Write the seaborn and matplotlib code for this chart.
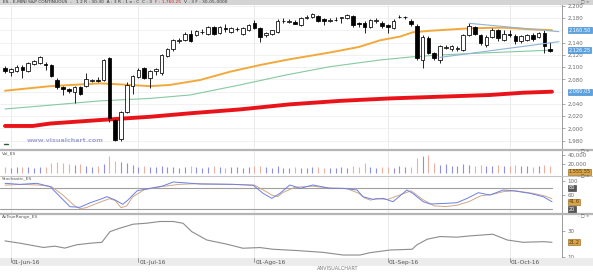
import numpy as np
import pandas as pd
import matplotlib
matplotlib.use("Agg")
import matplotlib.pyplot as plt
import matplotlib.transforms as mtransforms
from matplotlib.lines import Line2D
from matplotlib.patches import Rectangle
import seaborn as sns

sns.set_theme(style="white")
plt.rcParams['font.family'] = ['DejaVu Sans']

# ---------------- data ----------------
opens = [2099, 2092, 2094, 2101, 2094, 2105, 2107, 2106, 2103, 2079, 2067, 2064, 2060, 2067, 2069, 2077.5,
         2078.5, 2079, 2115, 2014, 1982, 2027, 2069, 2084, 2098, 2082, 2093, 2090, 2118, 2129, 2143, 2144,
         2155, 2153, 2157, 2155, 2166, 2156, 2164, 2158, 2162, 2155, 2161, 2172, 2164, 2153, 2155, 2158,
         2175, 2174, 2174, 2169, 2181, 2182, 2184, 2179, 2176, 2177, 2181, 2180, 2184, 2173, 2173, 2166,
         2176, 2173, 2169, 2164, 2182, 2182, 2176, 2167, 2112, 2147, 2123, 2112, 2132, 2129, 2130, 2128,
         2153, 2165, 2153, 2136, 2150, 2160, 2144, 2155, 2151, 2142, 2144, 2153, 2149, 2156, 2129]
highs = [2102, 2099, 2103, 2103, 2109, 2112, 2118, 2108, 2105, 2082, 2069, 2066, 2070, 2069, 2090, 2080,
         2084, 2114, 2117, 2016, 2029, 2076, 2088, 2098, 2100, 2095, 2099, 2122, 2131, 2146, 2147, 2157,
         2160, 2161, 2162, 2168, 2168, 2168, 2171, 2166, 2166, 2166, 2171, 2177, 2166, 2158, 2161, 2178,
         2180, 2179, 2177, 2182, 2186, 2189, 2186, 2181, 2181, 2182, 2182, 2187, 2186, 2174, 2175, 2179,
         2180, 2175, 2171, 2178, 2186, 2184, 2179, 2170, 2152, 2151, 2125, 2136, 2137, 2136, 2134, 2155,
         2172, 2167, 2155, 2152, 2164, 2162, 2161, 2160, 2154, 2153, 2155, 2156, 2158, 2160, 2141]
lows = [2090, 2086, 2092, 2082, 2092, 2103, 2105, 2095, 2084, 2064, 2055, 2058, 2041, 2055, 2067, 2075,
        2076, 2077, 2010, 1979, 1980, 2025, 2056, 2082, 2080, 2066, 2088, 2088, 2116, 2127, 2139, 2142,
        2141, 2151, 2154, 2153, 2153, 2154, 2158, 2156, 2159, 2153, 2159, 2162, 2141, 2149, 2153, 2156,
        2173, 2172, 2170, 2167, 2179, 2180, 2174, 2169, 2174, 2175, 2173, 2178, 2166, 2166, 2156, 2164,
        2172, 2164, 2156, 2162, 2180, 2178, 2168, 2112, 2099, 2122, 2112, 2107, 2129, 2127, 2127, 2126,
        2151, 2153, 2137, 2133, 2148, 2142, 2142, 2150, 2138, 2140, 2142, 2143, 2147, 2123, 2125]
closes = [2094, 2097, 2101, 2096, 2107, 2110, 2116, 2103, 2086, 2067, 2064, 2061, 2068, 2057, 2080, 2078.5,
          2077.5, 2112, 2017, 1981, 2027, 2071, 2086, 2095, 2082, 2093, 2097, 2120, 2129, 2144, 2144, 2155,
          2143, 2159, 2158, 2166, 2155, 2165, 2162, 2164, 2163, 2164, 2169, 2164, 2150, 2156, 2160, 2176,
          2176, 2174.5, 2171, 2180, 2182, 2187, 2176, 2175, 2177, 2177.5, 2181.5, 2185, 2169, 2171, 2166, 2177,
          2176.5, 2167, 2166, 2176, 2182.5, 2182.5, 2171, 2115, 2150, 2124, 2115, 2134, 2133, 2134, 2130.5, 2153,
          2167, 2155, 2139, 2150, 2160, 2147, 2155, 2153, 2142, 2151, 2153, 2146, 2156, 2134, 2126.25]
volume = [13, 11, 13, 13, 13, 11, 13, 13, 22, 24, 22, 20, 18, 20, 15, 13, 15, 20, 38, 27, 24, 22, 18, 13,
          15, 13, 14, 15, 13, 14, 12, 14, 15, 13, 12, 14, 15, 13, 12, 14, 13, 12, 14, 15, 16, 13, 12, 15,
          12, 11, 13, 12, 11, 13, 14, 12, 12, 11, 13, 12, 15, 14, 22, 13, 12, 14, 13, 12, 15, 13, 14, 33,
          38, 40, 22, 17, 19, 16, 15, 20, 18, 16, 17, 15, 16, 18, 15, 16, 17, 15, 16, 14, 15, 18, 16]
volume = [v * 1000 for v in volume]

ma_orange_x = [0, 7.8, 16.4, 21.6, 25, 28.4, 33.6, 38.8, 44, 49.1, 56, 61, 64.7, 68.1, 70.3, 73.3, 80.2, 85.9, 90.5, 94.3]
ma_orange_y = [2061.6, 2069, 2073.6, 2071, 2069, 2071, 2079, 2092.6, 2103.6, 2113, 2124, 2133, 2144, 2150, 2157,
               2159.5, 2163.6, 2164.6, 2162, 2160.5]
ma_green_x = [0, 7.8, 16.4, 25, 31.9, 40.5, 48.3, 56, 64.7, 70.3, 75, 83.1, 94.5]
ma_green_y = [2031.7, 2038, 2045, 2049, 2054.6, 2071, 2087, 2100.8, 2111.8, 2117, 2120, 2123.5, 2128]
ma_red_x = [0, 4.8, 7.8, 16.4, 25, 31.9, 40.5, 49.1, 57.8, 66.4, 75, 83.6, 89.3, 94.3]
ma_red_y = [2004, 2004, 2008, 2013.7, 2019, 2024.7, 2031, 2039.3, 2045, 2049, 2051.8, 2054.6, 2058.3, 2060]

trend_upper_x = [80, 95.5]
trend_upper_y = [2171.7, 2158]
trend_lower_x = [75, 95.5]
trend_lower_y = [2116, 2141.7]

stoch_k_x = [0, 2.6, 5.5, 7.8, 9.5, 11.2, 12.9, 14.7, 16.4, 17.6, 19, 20.3, 21.2, 22.8, 25, 27.2, 29, 30.7,
             33.6, 39.3, 42.8, 44.5, 46, 47.4, 49.1, 50.9, 53.1, 56, 58.3, 60.7, 61.7, 63.4, 65.2, 66.9,
             69.3, 70.3, 72.1, 73.3, 76.2, 77.9, 79.7, 81.6, 83.6, 85.9, 87.6, 90.5, 92.8, 94.3]
stoch_k_y = [93, 90, 93, 83.5, 55.6, 27.7, 26, 38.8, 48.3, 55.6, 46.4, 34.4, 46.4, 72.3, 79, 85.5, 96.6, 94.7,
             91, 90.2, 87.4, 65, 51, 65, 88.3, 79, 88.3, 79, 79, 74.3, 55.6, 48.3, 51, 41.6,
             74.3, 65, 41.6, 35.2, 37.2, 38.8, 51, 66.8, 60.3, 74.3, 72.3, 65, 55.6, 41.6]
stoch_d_x = [0, 3, 6, 8, 10, 12, 13, 14, 16, 18, 19, 20, 21, 22, 24, 27, 30, 33, 39, 43, 45, 46, 47, 48,
             50, 53, 56, 59, 61, 62, 63, 64, 66, 68, 70, 71, 72, 74, 76, 78, 80, 82, 84, 86, 88, 91, 93, 94.3]
stoch_d_y = [88, 90, 88, 84, 60, 30, 22, 25, 38, 50, 45, 25, 30, 55, 75, 84, 90, 92, 90, 88, 70, 60, 56, 68,
             82, 85, 80, 78, 65, 52, 46, 50, 48, 60, 72, 60, 48, 30, 28, 32, 42, 58, 62, 70, 72, 65, 58, 50]

atr_x = [0, 2.6, 6.6, 8.6, 10.3, 12.4, 14.7, 16.7, 18.1, 19.8, 22.1, 24.5, 26.7, 29, 30.7, 32.2, 34.8,
         38.3, 41, 44, 46.2, 50.3, 54.8, 58.3, 61.2, 62.9, 66.4, 70.2, 71, 72.8, 75, 77.9, 80.2, 84.1,
         86.6, 89.3, 92.8, 94.3]
atr_y = [22.3, 20.5, 17.2, 18.2, 16.7, 19.3, 20.5, 21.2, 29.5, 32.2, 35.3, 36.1, 37.4, 37.4, 36, 29.5, 23,
         19.7, 16.6, 17.1, 15.8, 14.8, 13.4, 11.3, 11.3, 13.1, 15.2, 15.8, 19.2, 23.6, 25.7, 25.2, 26.2, 27.5,
         23, 21.2, 21.7, 21.2]

month_idx = [1, 23, 43, 66, 87]
month_labels = ["01-Jun-16", "01-Jul-16", "01-Ago-16", "01-Sep-16", "01-Oct-16"]
price_ticks = [1980, 2000, 2020, 2040, 2080, 2100, 2120, 2140, 2180, 2200]
grid_ticks = [1980, 2000, 2020, 2040, 2060, 2080, 2100, 2120, 2140, 2160, 2180, 2200]

# ---------------- layout helpers ----------------
W, H = 593, 272
fig = plt.figure(figsize=(W / 100, H / 100), dpi=100)
fig.patch.set_facecolor("white")
XR = 562  # right edge of plot area (px)


def add_ax(y0, y1, x0=0, x1=XR):
    return fig.add_axes([x0 / W, 1 - y1 / H, (x1 - x0) / W, (y1 - y0) / H])


def px_line(x0, y0, x1, y1, **kw):
    fig.add_artist(Line2D([x0 / W, x1 / W], [1 - y0 / H, 1 - y1 / H], transform=fig.transFigure, **kw))


XLIM = (-0.86, 96.03)
GRID = "#ebebeb"
LBL = "#6a6a6a"


def style_ax(ax, ylim, ticks=None, ticklabels=None):
    ax.set_xlim(*XLIM)
    ax.set_ylim(*ylim)
    ax.set_facecolor("white")
    for s in ["top", "left", "bottom"]:
        ax.spines[s].set_visible(False)
    ax.spines["right"].set_color("#8a8a8a")
    ax.spines["right"].set_linewidth(0.6)
    ax.set_xticks([])
    ax.yaxis.tick_right()
    if ticks is not None:
        ax.set_yticks(ticks)
        ax.set_yticklabels(ticklabels)
    else:
        ax.set_yticks([])
    ax.tick_params(axis="y", length=2, width=0.5, colors="#8a8a8a", labelsize=4.0, labelcolor=LBL, pad=2)
    for m in month_idx:
        ax.axvline(m, color="#e2e2e2", lw=0.5, zorder=0)


def value_box(ax, y, text, fc, tc="white", ec="#3d7fc0"):
    tr = mtransforms.blended_transform_factory(ax.transAxes, ax.transData)
    ax.text(1.012, y, text, transform=tr, fontsize=3.6, color=tc, va="center", ha="left",
            bbox=dict(boxstyle="square,pad=0.12", fc=fc, ec=ec, lw=0.4),
            zorder=10, clip_on=False)


def corner_icons(y):
    fig.text(589 / W, 1 - y / H, "- \u25a1 \u00d7", fontsize=3.0, color="#555555", ha="right", va="center")


# ---------------- header bar ----------------
fig.add_artist(Rectangle((0, 1 - 5 / H), 1, 5 / H, transform=fig.transFigure, fc="#d4d4d4", ec="none",
                         zorder=-5))

# ---------------- main price panel ----------------
ax = add_ax(5, 148)
style_ax(ax, (1968.0, 2201.6), price_ticks, [f"{t:,}" for t in price_ticks])
for t in grid_ticks:
    ax.axhline(t, color=GRID, lw=0.5, zorder=0)

t1 = fig.text(3 / W, 1 - 2.4 / H, "ES - E-MINI S&P CONTINUOUS  -   1 2 R : 30:30  A : 3 R : 1 o : C  C : 3",
              fontsize=3.2, color="#333333", va="center", zorder=6)
t2 = ax.annotate("F : 1,760.25", xy=(1, 0.5), xycoords=t1, xytext=(2, 0), textcoords="offset points",
                 fontsize=3.2, color="#cc2222", va="center", ha="left", annotation_clip=False, zorder=6)
ax.annotate("V : 3 F : 30-05-0000", xy=(1, 0.5), xycoords=t2, xytext=(2, 0), textcoords="offset points",
            fontsize=3.2, color="#333333", va="center", ha="left", annotation_clip=False, zorder=6)

df = pd.DataFrame({"o": opens, "h": highs, "l": lows, "c": closes})
df["i"] = np.arange(len(df))
df["up"] = df["c"] >= df["o"]
body_lo = np.minimum(df["o"], df["c"])
body_h = np.maximum(np.abs(df["c"] - df["o"]), 0.7)
ax.vlines(df["i"], df["l"], df["h"], color="black", lw=0.6, zorder=3)
ax.bar(df["i"], body_h, bottom=body_lo, width=0.62,
       color=np.where(df["up"], "white", "black"), edgecolor="black", linewidth=0.55, zorder=4)

sns.lineplot(x=ma_red_x, y=ma_red_y, ax=ax, color="#e8141a", lw=2.8, zorder=2, legend=False)
sns.lineplot(x=ma_green_x, y=ma_green_y, ax=ax, color="#86c9a2", lw=0.8, zorder=2, legend=False)
sns.lineplot(x=ma_orange_x, y=ma_orange_y, ax=ax, color="#f2a93b", lw=1.4, zorder=2, legend=False)
sns.lineplot(x=trend_upper_x, y=trend_upper_y, ax=ax, color="#8fb3d6", lw=0.8, zorder=5, legend=False)
sns.lineplot(x=trend_lower_x, y=trend_lower_y, ax=ax, color="#8fb3d6", lw=0.8, zorder=5, legend=False)
ax.set_xlim(*XLIM)
ax.set_xlabel("")
ax.set_ylabel("")

value_box(ax, 2160.5, "2,160.50", "#5aa3e2")
value_box(ax, 2127.5, "2,126.25", "#5aa3e2")
value_box(ax, 2060.0, "2,060.05", "#5aa3e2")

ax.text(0.048, 0.035, "www.visualchart.com", transform=ax.transAxes, fontsize=4.6, color="#a3a3d8",
        fontweight="bold", va="bottom", ha="left")
ax.plot([3.5 / 5.8 - 0.86, 7.5 / 5.8 - 0.86], [1974, 1974], color="#2f5f2f", lw=1.0)
corner_icons(2.5)

# ---------------- volume panel ----------------
axv = add_ax(151, 175)
style_ax(axv, (-4400, 48900), [20000, 40000], ["20,000", "40,000"])
vcol = np.where(df["up"], "#8e8ee8", "#eab0a0")
axv.vlines(df["i"], 0, volume, colors=vcol, lw=0.8)
value_box(axv, 3000, "1,555.55", "#d9a54a", tc="#5a3a00", ec="#8a5a10")
fig.text(2 / W, 1 - 153 / H, "Vol_ES", fontsize=3.2, color="#555555", va="center")
corner_icons(151.5)

# ---------------- stochastic panel ----------------
axs = add_ax(176, 213.5)
style_ax(axs, (8.7, 113.4), [60, 100], ["60", "100"])
axs.plot([XLIM[0], 94.3], [80, 80], color="#a0a0a0", lw=0.8)
axs.plot([XLIM[0], 94.3], [20, 20], color="#a0a0a0", lw=0.8)
sns.lineplot(x=stoch_d_x, y=stoch_d_y, ax=axs, color="#cfa888", lw=0.7, legend=False)
sns.lineplot(x=stoch_k_x, y=stoch_k_y, ax=axs, color="#6d7fe0", lw=0.7, legend=False)
axs.set_xlim(*XLIM)
axs.set_xlabel("")
axs.set_ylabel("")
value_box(axs, 80, "80", "#555555", ec="#333333")
value_box(axs, 41.6, "41.6", "#d9a54a", tc="#5a3a00", ec="#8a5a10")
value_box(axs, 20, "20", "#555555", ec="#333333")
fig.text(2 / W, 1 - 178 / H, "Stochastic_ES", fontsize=3.2, color="#555555", va="center")
corner_icons(176.8)

# ---------------- ATR panel ----------------
axa = add_ax(215, 258)
style_ax(axa, (8.99, 42.45), [10, 30], ["10", "30"])
sns.lineplot(x=atr_x, y=atr_y, ax=axa, color="#8c8c8c", lw=0.8, legend=False)
axa.set_xlim(*XLIM)
axa.set_xlabel("")
axa.set_ylabel("")
value_box(axa, 21.2, "21.2", "#d9a54a", tc="#5a3a00", ec="#8a5a10")
fig.text(2 / W, 1 - 217 / H, "AvTrueRange_ES", fontsize=3.2, color="#555555", va="center")
corner_icons(216)

# ---------------- separators ----------------
px_line(0, 149.5, W, 149.5, color="#b5b5b5", lw=1.6)
px_line(0, 175.5, W, 175.5, color="#c5c5c5", lw=0.8)
px_line(0, 214.2, W, 214.2, color="#b5b5b5", lw=1.6)

# ---------------- date band ----------------
axd = add_ax(258, 266, 0, W)
axd.set_xlim(XLIM[0], XLIM[0] + (XLIM[1] - XLIM[0]) * W / XR)
axd.set_ylim(0, 1)
axd.set_facecolor("#ececec")
for s in axd.spines.values():
    s.set_visible(False)
axd.set_xticks([])
axd.set_yticks([])
for m, lab in zip(month_idx, month_labels):
    axd.plot([m, m], [1, 0.55], color="#777777", lw=0.5)
    axd.text(m + 0.15, 0.45, lab, fontsize=4.2, color="#555555", va="center", ha="left")

fig.text(317 / W, 1 - 269 / H, "ANVISUALCHART", fontsize=3.6, color="#7a7a7a", va="center")

fig.savefig("out.png", dpi=100, facecolor="white")
